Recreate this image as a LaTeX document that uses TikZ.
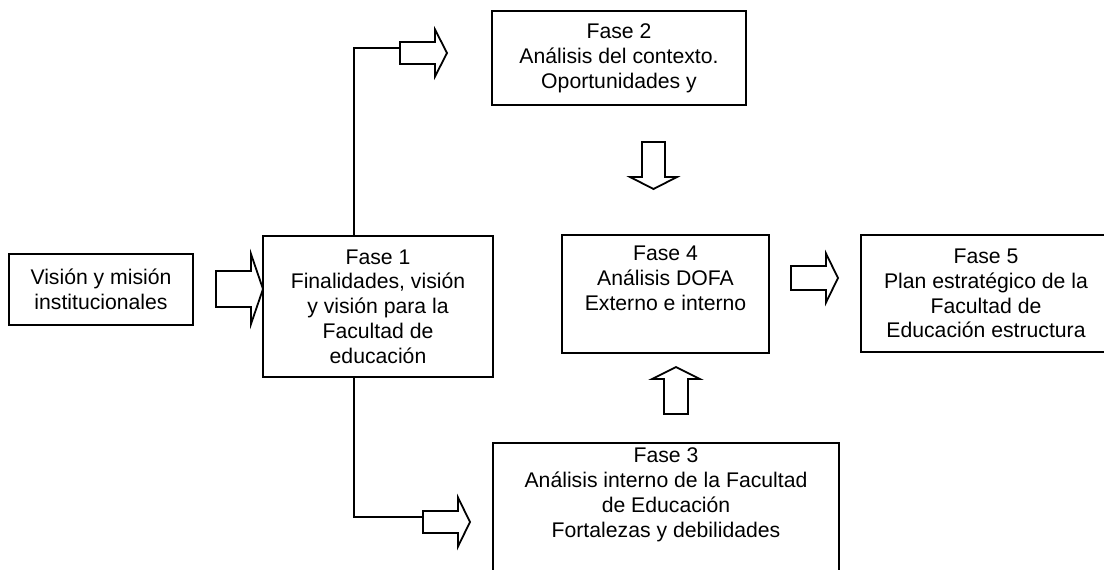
\documentclass[tikz,border=0pt]{standalone}
\usepackage{fontspec}
\setmainfont{Liberation Sans}
\usetikzlibrary{positioning}

\tikzset{
  pics/fatarrow/.style 2 args={code={
    \draw (0,-#1) -- (35,-#1) -- (35,-#2) -- (47,0) -- (35,#2) -- (35,#1) -- (0,#1) -- cycle;
    \coordinate (-tail) at (0,0);
    \coordinate (-feed) at (0,-5);
  }}
}

\begin{document}
\begin{tikzpicture}[x=0.5pt, y=-0.5pt, line width=0.9pt,
  every node/.style={font=\fontsize{10.6pt}{12.4pt}\selectfont},
  phase/.style={draw, rectangle, align=center, inner sep=0pt},
  phasetext/.style={align=center, inner sep=0pt},
  link/.style={line width=0.9pt}]
\useasboundingbox (0,0) rectangle (1104,569);

% boxes
\node[phase, minimum width=92pt, minimum height=35.5pt] (vis) at (101,289.5) {Visión y misión\\institucionales};
\node[phase, minimum width=115pt, minimum height=70.5pt] (f1) at (378,306.5) {Fase 1\\Finalidades, visión\\y visión para la\\Facultad de\\educación};
\node[phase, minimum width=127pt, minimum height=47pt] (f2) at (619,58) {Fase 2\\Análisis del contexto.\\Oportunidades y};
\node[phase, minimum width=173pt, minimum height=78.5pt] (f3) at (666,521.5) {};
\node[phasetext, below=2.4pt of f3.north] (t3) {Fase 3\\Análisis interno de la Facultad\\de Educación\\Fortalezas y debilidades};
\node[phase, minimum width=103.5pt, minimum height=59pt] (f4) at (665.5,294) {};
\node[phasetext, below=5.5pt of f4.north] (t4) {Fase 4\\Análisis DOFA\\Externo e interno};
\node[phase, minimum width=125pt, minimum height=58.5pt] (f5) at (986,293.5) {Fase 5\\Plan estratégico de la\\Facultad de\\Educación estructura};

% block arrows
\pic (av) at (216,289) {fatarrow={18}{35}};
\pic (a2) at (400,53) {fatarrow={11}{23.5}};
\pic (a3) at (423,522) {fatarrow={11}{24.5}};
\pic[rotate=-90] (a4) at (653.5,142) {fatarrow={11.5}{23.5}};
\pic[rotate=90] (a5) at (676,414) {fatarrow={12}{24}};
\pic (a6) at (791,278) {fatarrow={12}{24.5}};

% feeds from Fase 1
\draw[link] ([xshift=-12pt]f1.north) |- (a2-feed);
\draw[link] ([xshift=-12pt]f1.south) |- (a3-feed);
\end{tikzpicture}
\end{document}
